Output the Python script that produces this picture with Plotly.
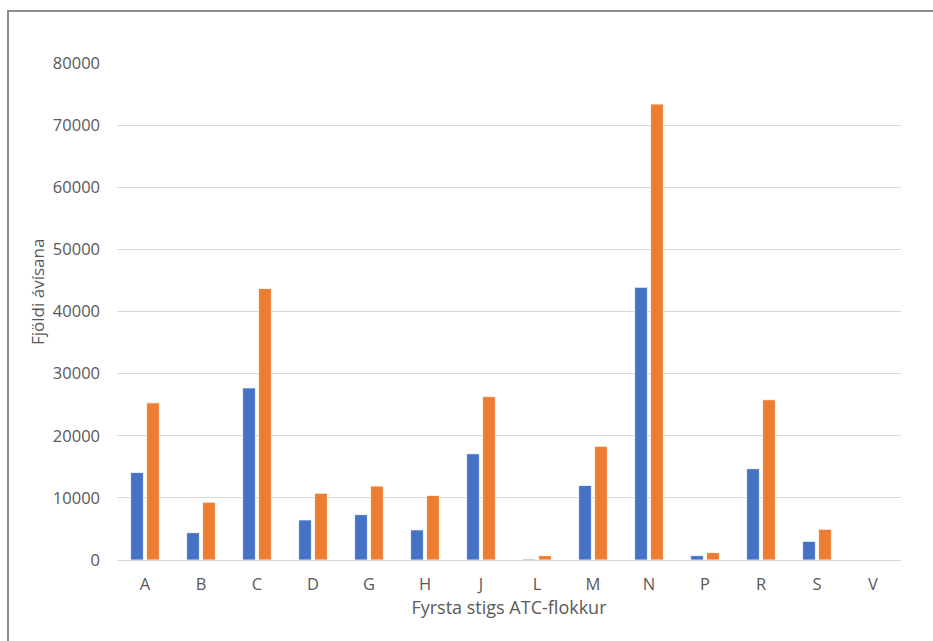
import plotly.graph_objects as go

# First-level ATC groups and number of prescriptions per series
categories = ["A", "B", "C", "D", "G", "H", "J", "L", "M", "N", "P", "R", "S", "V"]
series_1 = [14100, 4400, 27700, 6450, 7300, 4850, 17100, 150, 12000, 43900, 700, 14700, 3000, 0]
series_2 = [25300, 9300, 43700, 10750, 11900, 10400, 26300, 700, 18300, 73400, 1200, 25800, 4950, 0]
y_ticks = [0, 10000, 20000, 30000, 40000, 50000, 60000, 70000, 80000]

FONT = "Open Sans, Calibri, sans-serif"
TEXT_GREY = "#595959"
GRID_GREY = "#D9D9D9"

# Plot-area geometry in pixels
L, R, T, B = 117, 32, 63, 81
W, H = 933, 641
PW, PH = W - L - R, H - T - B

fig = go.Figure()
fig.add_trace(go.Bar(x=categories, y=series_1, name="Röð1",
                     marker=dict(color="#4472C4", line=dict(color="white", width=0.8))))
fig.add_trace(go.Bar(x=categories, y=series_2, name="Röð2",
                     marker=dict(color="#ED7D31", line=dict(color="white", width=0.8))))

fig.update_layout(
    width=W, height=H,
    margin=dict(l=L, r=R, t=T, b=B),
    paper_bgcolor="white", plot_bgcolor="white",
    barmode="group", bargap=0.43, bargroupgap=0.2,
    showlegend=False,
    font=dict(family=FONT, size=16.5, color=TEXT_GREY),
    xaxis=dict(
        showgrid=False, showline=True, linecolor=GRID_GREY, linewidth=1,
        ticks="", ticklabelstandoff=9,
        tickfont=dict(size=16.5, color=TEXT_GREY),
        title=dict(text="Fyrsta stigs ATC-flokkur", font=dict(size=18, color=TEXT_GREY), standoff=3),
    ),
    yaxis=dict(
        range=[0, 80000], tickvals=y_ticks, ticktext=[str(v) for v in y_ticks],
        showgrid=True, gridcolor=GRID_GREY, gridwidth=1,
        zeroline=False, showline=False, ticks="", ticklabelstandoff=16,
        tickfont=dict(size=16.5, color=TEXT_GREY),
    ),
)

# Vertical axis title
fig.add_annotation(text="Fjöldi ávísana", xref="paper", yref="paper",
                   x=(37 - L) / PW, y=(H - B - 292) / PH,
                   textangle=-90, showarrow=False, xanchor="center", yanchor="middle",
                   font=dict(size=17, color=TEXT_GREY))

# Outer chart frame (top and left edges fall inside the page)
fig.add_shape(type="rect", xref="paper", yref="paper",
              x0=(8 - L) / PW, x1=1.2, y0=-0.5, y1=1 + (T - 11) / PH,
              line=dict(color="#8C8C8C", width=2), fillcolor="rgba(0,0,0,0)", layer="below")

fig.write_html("out.html")
